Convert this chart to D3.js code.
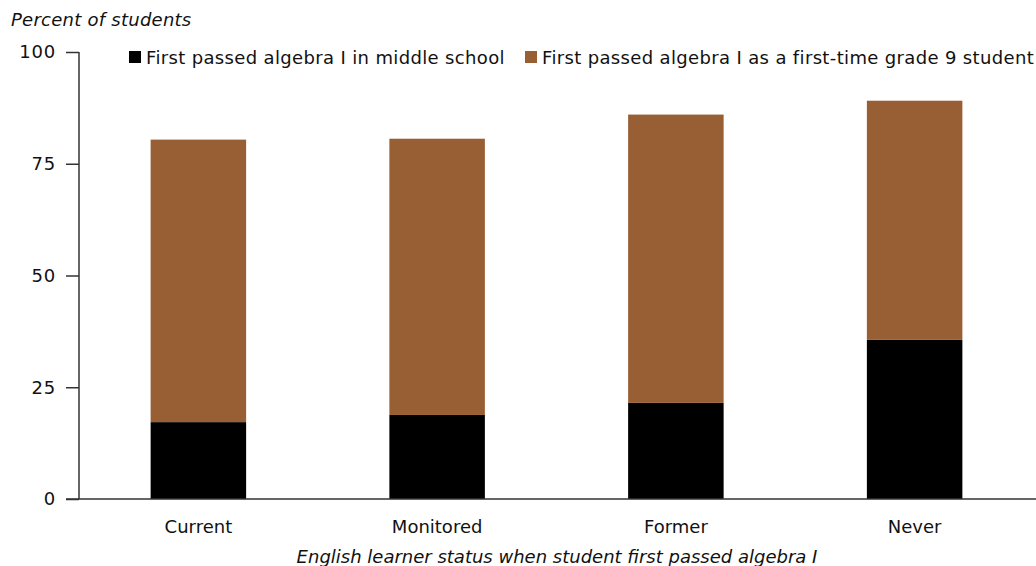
<!DOCTYPE html>
<html>
<head>
<meta charset="utf-8">
<script src="https://cdn.jsdelivr.net/npm/d3@7"></script>
<style>
  body { margin: 0; background: #fff; }
  text { font-family: "DejaVu Sans", sans-serif; fill: #111; }
</style>
</head>
<body>
<div class="canvas"></div>
<script>
const categories = ['Current', 'Monitored', 'Former', 'Never']
const middleSchool = [17.2, 18.8, 21.5, 35.6]
const grade9 = [63.2, 61.8, 64.5, 53.5]
const seriesNames = ['First passed algebra I in middle school', 'First passed algebra I as a first-time grade 9 student']
const yTicks = [0, 25, 50, 75, 100]

const colors = ['#000000', '#985f34']
const width = 1036, height = 566

const svg = d3.select('.canvas').append('svg').attr('width', width).attr('height', height)

const margin = {top: 52, right: 2, bottom: 67, left: 79}
const graphHeight = height - margin.top - margin.bottom

const data = categories.map((c, i) => ({name: c, ms: middleSchool[i], g9: grade9[i]}))
const stack = d3.stack().keys(['ms', 'g9'])(data)

const y = d3.scaleLinear().domain([0, 100]).range([graphHeight, 0])
const x = d3.scaleBand()
    .domain(categories)
    .range([0, width - margin.left - margin.right])
    .paddingInner(0.6)
    .paddingOuter(0.3)

const graph = svg.append('g').attr('transform', `translate(${margin.left}, ${margin.top})`)

graph.selectAll('g.series')
    .data(stack)
    .enter().append('g')
        .attr('class', 'series')
        .attr('fill', (d, i) => colors[i])
    .selectAll('rect')
    .data(d => d)
    .enter().append('rect')
        .attr('x', d => x(d.data.name))
        .attr('width', x.bandwidth())
        .attr('y', d => y(d[1]))
        .attr('height', d => y(d[0]) - y(d[1]))

// y axis
const yAxis = d3.axisLeft(y).tickValues(yTicks).tickSize(13).tickPadding(10)
const yAxisGraph = graph.append('g').call(yAxis)
yAxisGraph.select('.domain').remove()
yAxisGraph.selectAll('line').attr('stroke', '#333').attr('stroke-width', 1.5)
yAxisGraph.selectAll('text').style('font-size', '18px').style('font-family', '"DejaVu Sans", sans-serif')
    .style('letter-spacing', '0.8px').attr('fill', '#111')
graph.append('line')
    .attr('x1', 0).attr('x2', 0)
    .attr('y1', y(100)).attr('y2', y(0))
    .attr('stroke', '#333').attr('stroke-width', 1.5)

// x axis
const xAxis = d3.axisBottom(x).tickSize(0).tickPadding(21)
const xAxisGraph = graph.append('g').attr('transform', `translate(0, ${graphHeight})`).call(xAxis)
xAxisGraph.select('.domain').remove()
xAxisGraph.selectAll('text').style('font-size', '18px').style('font-family', '"DejaVu Sans", sans-serif').attr('fill', '#111')
graph.append('line')
    .attr('x1', -13).attr('x2', width - margin.left)
    .attr('y1', y(0)).attr('y2', y(0))
    .attr('stroke', '#333').attr('stroke-width', 1.5)

// titles
svg.append('text')
    .attr('x', 11).attr('y', 26)
    .style('font-size', '18px').style('font-style', 'italic')
    .style('letter-spacing', '0.25px')
    .text('Percent of students')

svg.append('text')
    .attr('x', 557).attr('y', 563)
    .attr('text-anchor', 'middle')
    .style('font-size', '18px').style('font-style', 'italic')
    .text('English learner status when student first passed algebra I')

// legend
const legendX = [129, 525]
const legend = svg.selectAll('g.legend')
    .data(seriesNames)
    .enter().append('g')
        .attr('class', 'legend')
        .attr('transform', (d, i) => `translate(${legendX[i]}, 51)`)
legend.append('rect')
    .attr('width', 12).attr('height', 12)
    .attr('fill', (d, i) => colors[i])
legend.append('text')
    .attr('x', 17).attr('y', 13)
    .style('font-size', '18px')
    .style('letter-spacing', '0.35px')
    .text(d => d)
</script>
</body>
</html>
